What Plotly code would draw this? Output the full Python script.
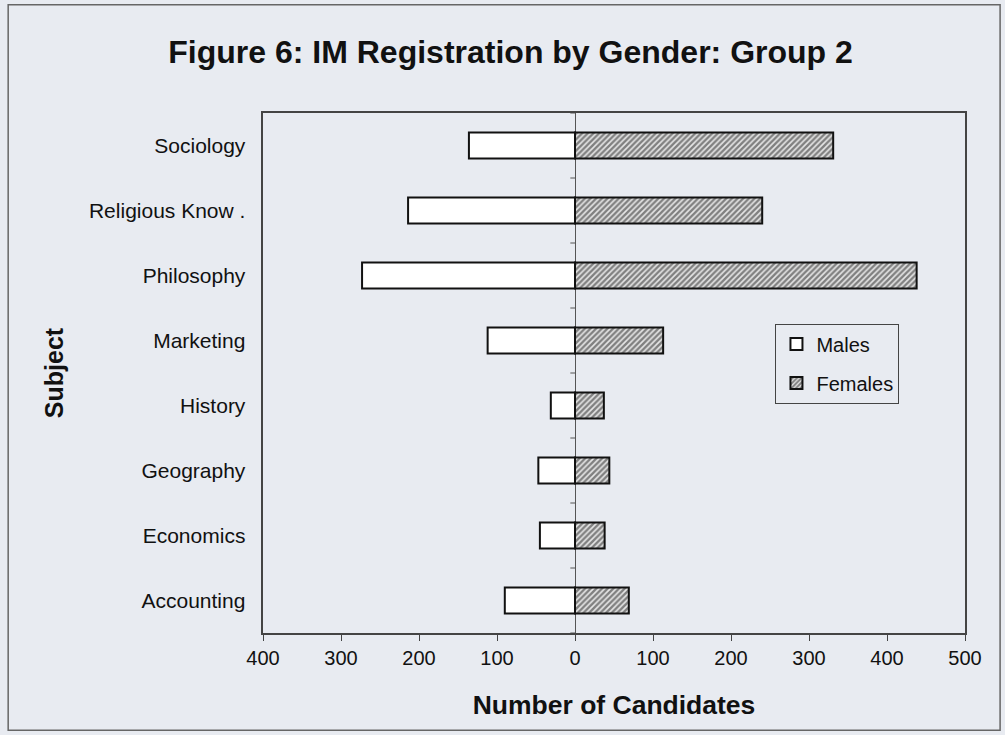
import plotly.graph_objects as go

subjects = ["Accounting", "Economics", "Geography", "History", "Marketing",
            "Philosophy", "Religious Know .", "Sociology"]
males = [90, 45, 47, 31, 112, 273, 214, 136]
females = [69, 38, 44, 37, 113, 438, 240, 331]
tick_vals = [-400, -300, -200, -100, 0, 100, 200, 300, 400, 500]
tick_text = ["400", "300", "200", "100", "0", "100", "200", "300", "400", "500"]

BG = "#e8ebf1"
FONT = "Liberation Sans, Arial, sans-serif"

fig = go.Figure()
fig.add_trace(go.Bar(
    y=subjects, x=[-m for m in males], orientation="h", name="Males",
    legendgroup="m",
    marker=dict(color="white", line=dict(color="#111", width=2)),
))
fig.add_trace(go.Bar(
    y=subjects, x=females, orientation="h", name="Females",
    legendgroup="f",
    marker=dict(color="white", line=dict(color="#111", width=2),
                pattern=dict(shape="/", fgcolor="#1a1a1a", bgcolor="#e6e6e6",
                             size=4, solidity=0.6)),
))

shapes = []
# category tick marks on the zero line
for i in range(len(subjects) + 1):
    shapes.append(dict(type="line", xref="x", yref="y", x0=-6, x1=0,
                       y0=i - 0.5, y1=i - 0.5, line=dict(color="#555", width=1)))
# outer frame
shapes.append(dict(type="rect", xref="paper", yref="paper",
                   x0=-0.363, x1=1.050, y0=-0.187, y1=1.208,
                   line=dict(color="#666", width=1.5), layer="below"))

fig.update_layout(
    width=1005, height=735,
    paper_bgcolor=BG, plot_bgcolor=BG,
    barmode="relative", bargap=0.6,
    margin=dict(l=263, r=40, t=113, b=102),
    font=dict(family=FONT, size=20, color="#111"),
    title=dict(text="<b>Figure 6: IM Registration by Gender: Group 2</b>",
               x=0.508, xanchor="center", y=0.929, yanchor="middle",
               font=dict(size=32, family=FONT, color="#111")),
    xaxis=dict(range=[-400, 500], tickvals=tick_vals, ticktext=tick_text,
               showgrid=False, zeroline=True, zerolinecolor="#555", zerolinewidth=1,
               showline=True, linecolor="#444", linewidth=1.5, mirror=True,
               ticks="outside", ticklen=6, tickcolor="#444",
               tickfont=dict(size=20),
               title=dict(text="<b>Number of Candidates</b>", font=dict(size=26.5),
                          standoff=28)),
    yaxis=dict(showgrid=False, showline=True, linecolor="#444", linewidth=1.5,
               mirror=True, ticks="", ticksuffix="  ",
               tickfont=dict(size=21),
               range=[-0.5, 7.5],
               title=dict(text="<b>Subject</b>", font=dict(size=25), standoff=18)),
    legend=dict(x=0.73, y=0.595, xanchor="left", yanchor="top",
                bgcolor=BG, bordercolor="#444", borderwidth=1,
                font=dict(size=20), traceorder="grouped", tracegroupgap=10,
                itemwidth=30),
    shapes=shapes,
    showlegend=True,
)

fig.write_html("out.html", config={"displayModeBar": False},
               post_script="document.body.style.margin='0';")
